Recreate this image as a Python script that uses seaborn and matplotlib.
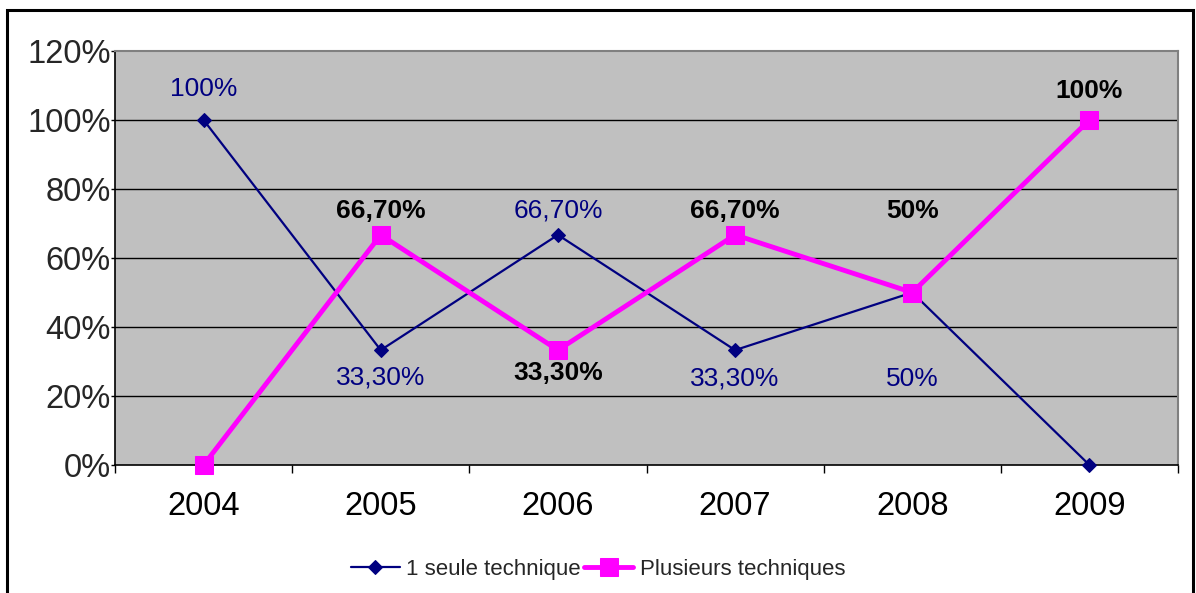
import matplotlib
matplotlib.use("Agg")
import matplotlib.pyplot as plt
import seaborn as sns
import pandas as pd
from matplotlib.patches import Rectangle
from matplotlib.ticker import FixedLocator

# ---- data ----
years = ["2004", "2005", "2006", "2007", "2008", "2009"]
seule = [1.00, 0.333, 0.667, 0.333, 0.50, 0.00]
plusieurs = [0.00, 0.667, 0.333, 0.667, 0.50, 1.00]
seule_labels = ["100%", "33,30%", "66,70%", "33,30%", "50%", ""]
plusieurs_labels = ["", "66,70%", "33,30%", "66,70%", "50%", "100%"]
yticks = [0.0, 0.2, 0.4, 0.6, 0.8, 1.0, 1.2]
ytick_labels = ["0%", "20%", "40%", "60%", "80%", "100%", "120%"]
series_names = ["1 seule technique", "Plusieurs techniques"]

# label offsets in pixels (vertical)
seule_off = [31, -27, 24, -28, -86, 0]
plusieurs_off = [0, 24, -23, 24, 82, 29]

sns.set_theme(style="white")
plt.rcParams["font.family"] = ["Liberation Sans", "DejaVu Sans"]

W, H, DPI = 1196, 593, 100
fig = plt.figure(figsize=(W / DPI, H / DPI), dpi=DPI)
ax = fig.add_axes([115 / W, 1 - 465 / H, (1178 - 115) / W, (465 - 51) / H])
ax.set_facecolor("#C0C0C0")

x = list(range(len(years)))
df1 = pd.DataFrame({"x": x, "y": seule})
df2 = pd.DataFrame({"x": x, "y": plusieurs})

sns.lineplot(data=df1, x="x", y="y", ax=ax, color="#000080", linewidth=1.6,
             marker="D", markersize=7, markeredgecolor="#000080",
             label=series_names[0], zorder=4, clip_on=False)
sns.lineplot(data=df2, x="x", y="y", ax=ax, color="#FF00FF", linewidth=3.5,
             marker="s", markersize=13, markeredgecolor="#FF00FF",
             label=series_names[1], zorder=5, clip_on=False)

ax.set_xlim(-0.5, len(years) - 0.5)
ax.set_ylim(0, 1.2)
ax.set_yticks(yticks)
ax.set_yticklabels(ytick_labels, fontsize=23.5)
ax.set_xticks(x)
ax.set_xticklabels(years, fontsize=23.5)
ax.xaxis.set_minor_locator(FixedLocator([i - 0.5 for i in range(len(years) + 1)]))
ax.tick_params(axis="x", which="major", length=0, pad=19, colors="black")
ax.tick_params(axis="x", which="minor", length=6, width=1, color="black", direction="out", bottom=True)
ax.tick_params(axis="y", which="major", length=3, width=1, color="black", pad=0, left=True, direction="out")
ax.set_xlabel("")
ax.set_ylabel("")

for v in yticks[1:-1]:
    ax.axhline(v, color="black", linewidth=1, zorder=1)

for side in ["left", "bottom"]:
    ax.spines[side].set_color("black")
    ax.spines[side].set_linewidth(1.2)
for side in ["top", "right"]:
    ax.spines[side].set_color("#808080")
    ax.spines[side].set_linewidth(1.5)

for xi, yv, lab, off in zip(x, seule, seule_labels, seule_off):
    if lab:
        ax.annotate(lab, (xi, yv), xytext=(0, off), textcoords="offset pixels",
                    ha="center", va="center", fontsize=19, color="#000080", zorder=6)
for xi, yv, lab, off in zip(x, plusieurs, plusieurs_labels, plusieurs_off):
    if lab:
        ax.annotate(lab, (xi, yv), xytext=(0, off), textcoords="offset pixels",
                    ha="center", va="center", fontsize=19, color="black",
                    fontweight="bold", zorder=6)

leg = ax.legend(loc="center", bbox_to_anchor=(0.5, (H - 569) / H), bbox_transform=fig.transFigure,
                ncol=2, frameon=False, fontsize=16, handlelength=2.2, handletextpad=0.3,
                columnspacing=0.15, borderpad=0)

# outer border
fig.patches.append(Rectangle((7 / W, -0.05), (1193 - 7) / W, 1.05 - 10 / H,
                             transform=fig.transFigure, fill=False,
                             edgecolor="black", linewidth=2.2, clip_on=False))

fig.savefig("out.png", dpi=DPI)
